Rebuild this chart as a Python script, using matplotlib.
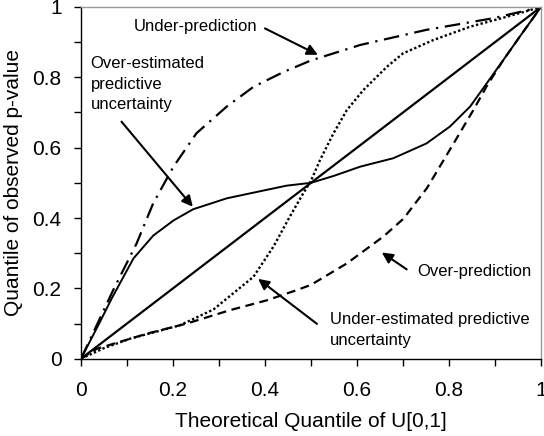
import matplotlib
matplotlib.use('Agg')
import matplotlib.pyplot as plt
from matplotlib.ticker import MultipleLocator

plt.rcParams['font.family'] = ['Liberation Sans', 'DejaVu Sans']

# %% podaci (procitano sa slike)

diag_x = [0.0, 1.0]
diag_y = [0.0, 1.0]

# puna S kriva - precenjena nesigurnost
over_est_x = [0.0, 0.041, 0.067, 0.114, 0.157, 0.201, 0.244, 0.317, 0.389, 0.447, 0.5,
              0.55, 0.607, 0.679, 0.751, 0.802, 0.846, 0.882, 0.918, 0.954, 1.0]
over_est_y = [0.0, 0.104, 0.172, 0.285, 0.35, 0.393, 0.425, 0.456, 0.476, 0.492, 0.5,
              0.52, 0.546, 0.570, 0.612, 0.66, 0.717, 0.783, 0.849, 0.916, 1.0]

# tackasta - potcenjena nesigurnost
under_est_x = [0.0, 0.05, 0.107, 0.215, 0.288, 0.331, 0.375, 0.418, 0.454, 0.483, 0.5,
               0.52, 0.549, 0.578, 0.614, 0.665, 0.70, 0.766, 0.846, 0.925, 1.0]
under_est_y = [0.0, 0.03, 0.057, 0.095, 0.14, 0.186, 0.233, 0.318, 0.404, 0.47, 0.506,
               0.566, 0.641, 0.707, 0.764, 0.83, 0.868, 0.906, 0.944, 0.972, 1.0]

# crta-tacka - under-prediction
under_pred_x = [0.0, 0.07, 0.121, 0.157, 0.201, 0.251, 0.317, 0.375, 0.44, 0.5,
                0.607, 0.751, 0.896, 1.0]
under_pred_y = [0.0, 0.195, 0.328, 0.442, 0.546, 0.641, 0.717, 0.773, 0.815, 0.848,
                0.892, 0.935, 0.968, 1.0]

# isprekidana - over-prediction
over_pred_x = [0.0, 0.034, 0.143, 0.23, 0.324, 0.404, 0.469, 0.5, 0.578, 0.657, 0.701,
               0.752, 0.81, 0.853, 0.882, 0.918, 0.954, 1.0]
over_pred_y = [0.0, 0.028, 0.071, 0.1, 0.138, 0.166, 0.195, 0.21, 0.271, 0.347, 0.398,
               0.485, 0.612, 0.707, 0.775, 0.849, 0.916, 1.0]

# %% grafik

fig = plt.figure(figsize=(5.44, 4.36), dpi=100)
ax = fig.add_axes([0.1489, 0.1773, 0.8456, 0.8067])

ax.plot(diag_x, diag_y, color='black', lw=1.6, solid_capstyle='butt')
ax.plot(over_est_x, over_est_y, color='black', lw=1.4)
ax.plot(under_est_x, under_est_y, color='black', lw=1.7, linestyle=(0, (1, 1.0)))
ax.plot(under_pred_x, under_pred_y, color='black', lw=1.6, linestyle=(0, (7, 3, 1, 3)))
ax.plot(over_pred_x, over_pred_y, color='black', lw=1.6, linestyle=(0, (4, 2.5)))

ax.set_xlim(0, 1)
ax.set_ylim(0, 1)
ax.xaxis.set_major_locator(MultipleLocator(0.2))
ax.yaxis.set_major_locator(MultipleLocator(0.2))
ax.xaxis.set_minor_locator(MultipleLocator(0.1))
ax.yaxis.set_minor_locator(MultipleLocator(0.1))
ax.xaxis.set_major_formatter(lambda v, p: f'{v:g}')
ax.yaxis.set_major_formatter(lambda v, p: f'{v:g}')
ax.tick_params(which='both', direction='out', length=5, width=1, labelsize=15, pad=9)
ax.tick_params(axis='x', which='major', pad=11)

for s in ['top', 'right']:
    ax.spines[s].set_color('#999999')
    ax.spines[s].set_linewidth(1)
for s in ['left', 'bottom']:
    ax.spines[s].set_linewidth(1)

ax.set_xlabel('Theoretical Quantile of U[0,1]', fontsize=15, labelpad=9)
ax.set_ylabel('Quantile of observed p-value', fontsize=15, labelpad=7)

arrow = dict(arrowstyle='-|>', color='black', lw=1.5, mutation_scale=16, shrinkA=0, shrinkB=0)

ax.text(0.115, 0.944, 'Under-prediction', fontsize=12, ha='left', va='center')
ax.annotate('', xy=(0.515, 0.864), xytext=(0.4, 0.939), arrowprops=arrow)

ax.text(0.021, 0.781, 'Over-estimated\npredictive\nuncertainty', fontsize=12,
        ha='left', va='center', linespacing=1.45)
ax.annotate('', xy=(0.243, 0.432), xytext=(0.088, 0.674), arrowprops=arrow)

ax.text(0.73, 0.249, 'Over-prediction', fontsize=12, ha='left', va='center')
ax.annotate('', xy=(0.654, 0.302), xytext=(0.708, 0.254), arrowprops=arrow)

ax.text(0.541, 0.082, 'Under-estimated predictive\nuncertainty', fontsize=12,
        ha='left', va='center', linespacing=1.45)
ax.annotate('', xy=(0.385, 0.227), xytext=(0.513, 0.099), arrowprops=arrow)

fig.savefig('out.png', dpi=100)
